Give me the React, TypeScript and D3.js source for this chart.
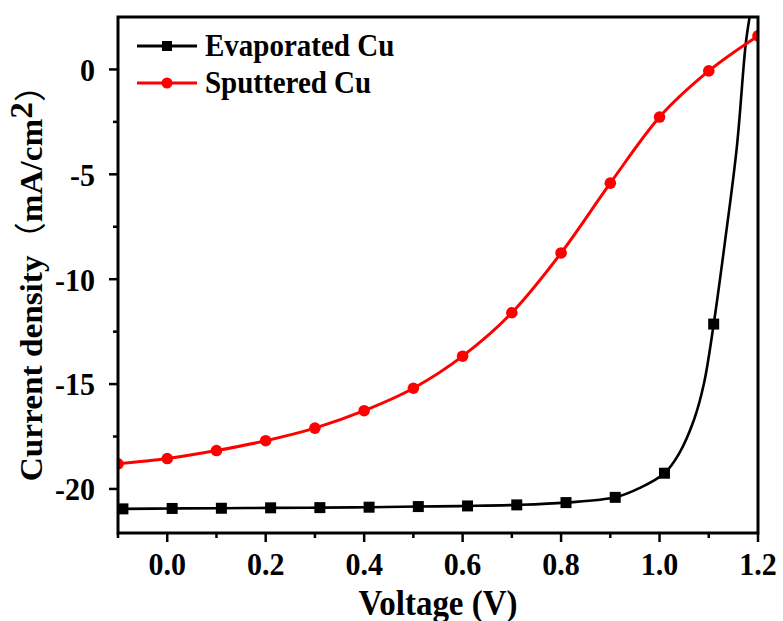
import React from "react";
import * as d3 from "d3";

const WIDTH = 783;
const HEIGHT = 621;
const MARGIN = { top: 17, right: 25, bottom: 88, left: 118 };

// Evaporated Cu: marker points
const evapMarkerV = [-0.09, 0.01, 0.11, 0.21, 0.31, 0.41, 0.51, 0.61, 0.71, 0.81, 0.91, 1.01, 1.11];
const evapMarkerJ = [-20.95, -20.93, -20.92, -20.9, -20.89, -20.87, -20.84, -20.81, -20.76, -20.65, -20.4, -19.25, -12.14];
// extra points along the black line where it has no markers
const evapLineV = [-0.1, 0.96, 1.04, 1.07, 1.09, 1.133, 1.157, 1.175, 1.183];
const evapLineJ = [-20.95, -19.95, -18.3, -16.7, -15.0, -8.2, -3.7, 1.2, 2.5];

// Sputtered Cu
const sputV = [-0.1, 0.0, 0.1, 0.2, 0.3, 0.4, 0.5, 0.6, 0.7, 0.8, 0.9, 1.0, 1.1, 1.2];
const sputJ = [-18.8, -18.55, -18.17, -17.7, -17.1, -16.27, -15.2, -13.67, -11.6, -8.75, -5.42, -2.27, -0.07, 1.6];

const xMajor = [0.0, 0.2, 0.4, 0.6, 0.8, 1.0, 1.2];
const xMinor = [-0.1, 0.1, 0.3, 0.5, 0.7, 0.9, 1.1];
const yMajor = [0, -5, -10, -15, -20];
const yMinor = [-2.5, -7.5, -12.5, -17.5];

const legendLabels = ["Evaporated Cu", "Sputtered Cu"];
const RED = "#ff0000";
const SERIF = "'Liberation Serif', 'Times New Roman', serif";

// text in the picture is a little taller than the plain font
const Label = ({ x, y, anchor = "start", size, sy = 1.08, dy = "0", children }: any) => (
  <g transform={`translate(${x},${y}) scale(1,${sy})`}>
    <text
      textAnchor={anchor}
      dy={dy}
      fontFamily={SERIF}
      fontWeight="bold"
      fontSize={size}
    >
      {children}
    </text>
  </g>
);

export default function App() {
  const boundsWidth = WIDTH - MARGIN.left - MARGIN.right;
  const boundsHeight = HEIGHT - MARGIN.top - MARGIN.bottom;

  const xScale = d3.scaleLinear().domain([-0.1, 1.2]).range([0, boundsWidth]);
  const yScale = d3.scaleLinear().domain([-22.1, 2.5]).range([boundsHeight, 0]);

  const evapMarkers = evapMarkerV.map((v, i) => [v, evapMarkerJ[i]]);
  const evapLine = evapMarkers
    .concat(evapLineV.map((v, i) => [v, evapLineJ[i]]))
    .sort((a, b) => a[0] - b[0]);
  const sput = sputV.map((v, i) => [v, sputJ[i]]);

  const evapPath = d3
    .line<number[]>()
    .x((d) => xScale(d[0]))
    .y((d) => yScale(d[1]))
    .curve(d3.curveCatmullRom.alpha(0.5));
  const sputPath = d3
    .line<number[]>()
    .x((d) => xScale(d[0]))
    .y((d) => yScale(d[1]))
    .curve(d3.curveMonotoneX);

  return (
    <svg
      width={WIDTH}
      height={HEIGHT}
      style={{ position: "absolute", left: 0, top: 0, background: "white" }}
    >
      <defs>
        <clipPath id="plot-clip">
          <rect x={0} y={0} width={boundsWidth} height={boundsHeight} />
        </clipPath>
      </defs>
      <g transform={`translate(${MARGIN.left},${MARGIN.top})`}>
        {/* data */}
        <g clipPath="url(#plot-clip)">
          <path d={evapPath(evapLine) || ""} fill="none" stroke="black" strokeWidth={2.6} />
          {evapMarkers.map((d, i) => (
            <rect
              key={"e" + i}
              x={xScale(d[0]) - 5.5}
              y={yScale(d[1]) - 5.5}
              width={11}
              height={11}
              fill="black"
            />
          ))}
          <path d={sputPath(sput) || ""} fill="none" stroke={RED} strokeWidth={3} />
          {sput.map((d, i) => (
            <circle key={"s" + i} cx={xScale(d[0])} cy={yScale(d[1])} r={5.8} fill={RED} />
          ))}
        </g>

        {/* frame */}
        <rect
          x={0}
          y={0}
          width={boundsWidth}
          height={boundsHeight}
          fill="none"
          stroke="black"
          strokeWidth={3}
        />

        {/* x axis ticks */}
        {xMajor.map((t) => (
          <g key={"xM" + t}>
            <line x1={xScale(t)} x2={xScale(t)} y1={boundsHeight} y2={boundsHeight + 9} stroke="black" strokeWidth={2.5} />
            <Label x={xScale(t)} y={boundsHeight + 42} anchor="middle" size={30}>
              {d3.format(".1f")(t)}
            </Label>
          </g>
        ))}
        {xMinor.map((t) => (
          <line key={"xm" + t} x1={xScale(t)} x2={xScale(t)} y1={boundsHeight} y2={boundsHeight + 5} stroke="black" strokeWidth={2.5} />
        ))}

        {/* y axis ticks */}
        {yMajor.map((t) => (
          <g key={"yM" + t}>
            <line x1={-9} x2={0} y1={yScale(t)} y2={yScale(t)} stroke="black" strokeWidth={2.5} />
            <Label x={-23} y={yScale(t)} anchor="end" size={30} dy="0.35em">
              {t}
            </Label>
          </g>
        ))}
        {yMinor.map((t) => (
          <line key={"ym" + t} x1={-5} x2={0} y1={yScale(t)} y2={yScale(t)} stroke="black" strokeWidth={2.5} />
        ))}

        {/* legend */}
        {legendLabels.map((label, i) => {
          const ly = 29 + i * 37;
          const color = i === 0 ? "black" : RED;
          return (
            <g key={label}>
              <line x1={19} x2={79} y1={ly} y2={ly} stroke={color} strokeWidth={3} />
              {i === 0 ? (
                <rect x={49 - 5} y={ly - 5} width={10} height={10} fill="black" />
              ) : (
                <circle cx={49} cy={ly} r={5.5} fill={RED} />
              )}
              <Label x={87} y={ly} size={29} dy="0.33em">
                {label}
              </Label>
            </g>
          );
        })}
      </g>

      {/* axis titles */}
      <Label x={MARGIN.left + boundsWidth / 2} y={615} anchor="middle" size={33}>
        Voltage (V)
      </Label>
      <g transform={`translate(42,${MARGIN.top + boundsHeight / 2}) rotate(-90) scale(1.04,1)`}>
        <text textAnchor="middle" fontFamily={SERIF} fontWeight="bold" fontSize={32}>
          Current density
          <tspan fontFamily="'Noto Sans CJK SC'" fontWeight="normal">（</tspan>
          mA/cm
          <tspan dy={-10}>2</tspan>
          <tspan dy={10} fontFamily="'Noto Sans CJK SC'" fontWeight="normal">）</tspan>
        </text>
      </g>
    </svg>
  );
}
